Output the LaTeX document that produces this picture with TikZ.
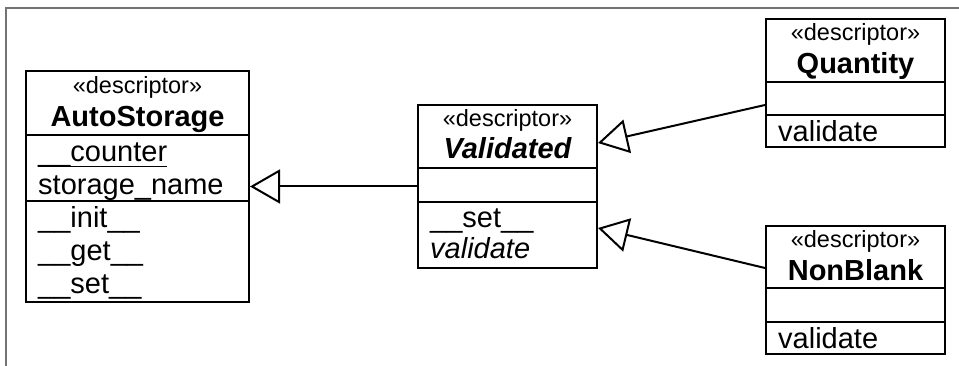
\documentclass[tikz,border=0pt]{standalone}
\usepackage{fontspec}
\setmainfont{Liberation Sans}
\usetikzlibrary{arrows.meta}
\begin{document}
\begin{tikzpicture}[x=1pt,y=-1pt,
  umlbox/.style={draw, line width=2pt, inner sep=0pt},
  sepline/.style={line width=2pt},
  stereo/.style={anchor=base, inner sep=0pt, font=\fontsize{23.5}{26}\selectfont},
  cname/.style={anchor=base, inner sep=0pt, font=\fontsize{29}{32}\selectfont\bfseries},
  member/.style={anchor=base west, inner sep=0pt, font=\fontsize{29}{32}\selectfont},
  inherit/.style={line width=2pt, -{Triangle[open, length=30pt, width=34pt, fill=white]}},
  frameline/.style={draw=black!55, line width=1.5pt}
]
\useasboundingbox (0,0) rectangle (959,366);
\draw[frameline] (959,8) -- (6,8) -- (6,366);

% AutoStorage
\node[umlbox, minimum width=223pt, minimum height=231pt] (auto) at (137.5,186.5) {};
\draw[sepline] (26,135) -- (249,135);
\draw[sepline] (26,201) -- (249,201);
\node[stereo] (autoS) at (137.5,94) {«descriptor»};
\node[cname] (autoN) at (137.5,127) {AutoStorage};
\node[member] (autoA1) at (38,162) {\_\_counter};
\draw[line width=1.4pt] ([yshift=-4.3pt]autoA1.base west) -- ([yshift=-4.3pt]autoA1.base east);
\node[member] (autoA2) at (38,195) {storage\_name};
\node[member] (autoM1) at (38,228) {\_\_init\_\_};
\node[member] (autoM2) at (38,261) {\_\_get\_\_};
\node[member] (autoM3) at (38,294) {\_\_set\_\_};

% Validated
\node[umlbox, minimum width=179pt, minimum height=163pt] (valid) at (507.5,186.5) {};
\draw[sepline] (418,168) -- (597,168);
\draw[sepline] (418,202) -- (597,202);
\node[stereo] (validS) at (507.5,127) {«descriptor»};
\node[cname] (validN) at (507.5,159) {\itshape Validated};
\node[member] (validM1) at (430,228) {\_\_set\_\_};
\node[member] (validM2) at (430,259) {\itshape validate};

% Quantity
\node[umlbox, minimum width=179pt, minimum height=128pt] (quant) at (855.5,83) {};
\draw[sepline] (766,82) -- (945,82);
\draw[sepline] (766,115) -- (945,115);
\node[stereo] (quantS) at (855.5,41) {«descriptor»};
\node[cname] (quantN) at (855.5,74) {Quantity};
\node[member] (quantM1) at (778,142) {validate};

% NonBlank
\node[umlbox, minimum width=179pt, minimum height=128pt] (nonb) at (855.5,290) {};
\draw[sepline] (766,288) -- (945,288);
\draw[sepline] (766,322) -- (945,322);
\node[stereo] (nonbS) at (855.5,248) {«descriptor»};
\node[cname] (nonbN) at (855.5,281) {NonBlank};
\node[member] (nonbM1) at (778,348) {validate};

% Generalizations
\draw[inherit] (valid.west) -- (auto.east);
\draw[inherit] ([yshift=-22pt]quant.west) -- ([yshift=43.5pt]valid.east);
\draw[inherit] ([yshift=22pt]nonb.west) -- ([yshift=-41.5pt]valid.east);
\end{tikzpicture}
\end{document}
